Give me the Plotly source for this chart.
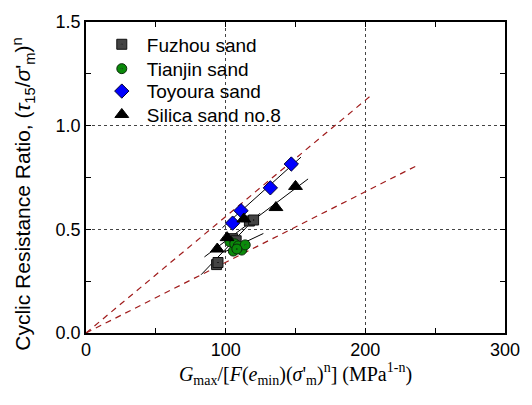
import plotly.graph_objects as go

# ---- data ----
fuzhou_x = [93.5, 94.5, 105, 107.5, 117, 120]
fuzhou_y = [0.33, 0.34, 0.455, 0.445, 0.54, 0.545]
tianjin_x = [103, 105.5, 106.5, 109, 111.5, 114, 108]
tianjin_y = [0.44, 0.395, 0.43, 0.42, 0.40, 0.425, 0.405]
toyoura_x = [105, 111, 132, 147]
toyoura_y = [0.53, 0.59, 0.70, 0.815]
silica_x = [94, 101, 113, 136, 150]
silica_y = [0.405, 0.46, 0.55, 0.605, 0.707]

# fitted lines (end points)
fuzhou_fit_x = [82.4, 124.6]
fuzhou_fit_y = [0.281, 0.578]
tianjin_fit_x = [98.8, 127]
tianjin_fit_y = [0.39, 0.48]
toyoura_fit_x = [97.7, 153.9]
toyoura_fit_y = [0.508, 0.848]
silica_fit_x = [84.8, 159]
silica_fit_y = [0.367, 0.743]

# bounding dashed lines through origin
upper_x = [0, 205.4]
upper_y = [0, 1.153]
lower_x = [0, 236.5]
lower_y = [0, 0.806]

x_ticks = [0, 100, 200, 300]
y_ticks = [0.0, 0.5, 1.0, 1.5]
y_tick_text = ["0.0", "0.5", "1.0", "1.5"]

# plot-area geometry (px) used to place legend rows / y title
L, R, T, B = 86, 19, 14, 72
W, H = 532, 405
PH = H - T - B
PW = W - L - R

fig = go.Figure()

dash_red = "#a01c1c"
for bx, by in [(upper_x, upper_y), (lower_x, lower_y)]:
    fig.add_trace(go.Scatter(x=bx, y=by, mode="lines", showlegend=False,
                             line=dict(color=dash_red, width=1.2, dash="6px,5px"),
                             hoverinfo="skip"))

for fx, fy in [(fuzhou_fit_x, fuzhou_fit_y), (tianjin_fit_x, tianjin_fit_y),
               (toyoura_fit_x, toyoura_fit_y), (silica_fit_x, silica_fit_y)]:
    fig.add_trace(go.Scatter(x=fx, y=fy, mode="lines", showlegend=False,
                             line=dict(color="black", width=1),
                             hoverinfo="skip"))

fig.add_trace(go.Scatter(x=fuzhou_x, y=fuzhou_y, mode="markers", name="Fuzhou sand",
                         legend="legend",
                         marker=dict(symbol="square-dot", size=10, color="#444444",
                                     line=dict(color="#111111", width=1))))
fig.add_trace(go.Scatter(x=tianjin_x, y=tianjin_y, mode="markers", name="Tianjin sand",
                         legend="legend2",
                         marker=dict(symbol="circle-dot", size=10, color="#0a8a0a",
                                     line=dict(color="#0b2b0b", width=1))))
fig.add_trace(go.Scatter(x=toyoura_x, y=toyoura_y, mode="markers", name="Toyoura sand",
                         legend="legend3",
                         marker=dict(symbol="diamond", size=11, color="#0000ff",
                                     line=dict(color="#000033", width=1))))
fig.add_trace(go.Scatter(x=silica_x, y=silica_y, mode="markers", name="Silica sand no.8",
                         legend="legend4",
                         marker=dict(symbol="triangle-up", size=12, color="black",
                                     line=dict(color="black", width=1))))

axis_common = dict(
    showline=True, linecolor="black", linewidth=1.5, mirror="ticks",
    ticks="inside", ticklen=5, tickcolor="black", tickwidth=1,
    showgrid=True, gridcolor="#444444", griddash="dot", gridwidth=1,
    zeroline=False,
    tickfont=dict(family="Liberation Sans, Arial", size=18, color="black"),
)

fig.update_xaxes(range=[0, 300], tickvals=x_ticks,
                 minor=dict(dtick=50, ticks="inside", ticklen=5, tickcolor="black", showgrid=False),
                 title=dict(text="<i>G</i><sub>max</sub>/[<i>F</i>(<i>e</i><sub>min</sub>)(<i>σ</i>'<sub>m</sub>)<sup>n</sup>] (MPa<sup>1-n</sup>)",
                            font=dict(family="Liberation Serif, Times New Roman", size=20, color="black"),
                            standoff=1),
                 **axis_common)
fig.update_yaxes(range=[0, 1.5], tickvals=y_ticks, ticktext=y_tick_text,
                 minor=dict(dtick=0.25, ticks="inside", ticklen=5, tickcolor="black", showgrid=False),
                 **axis_common)

# y-axis title (placed as rotated annotation to match reference position)
fig.add_annotation(
    text="Cyclic Resistance Ratio, (<i>τ</i><sub>15</sub>/<i>σ</i>'<sub>m</sub>)<sup>n</sup>",
    xref="paper", yref="paper",
    x=(22 - L) / PW, y=(H - B - 191) / PH,
    xanchor="center", yanchor="middle", textangle=-90, showarrow=False,
    font=dict(family="Liberation Sans, Arial", size=21, color="black"),
)

legend_font = dict(family="Liberation Sans, Arial", size=19, color="black")
row_px = [37, 62, 85, 109]
legend_x = (97 - L) / PW
legends = {}
for i, ry in enumerate(row_px):
    key = "legend" if i == 0 else f"legend{i+1}"
    legends[key] = dict(x=legend_x, y=(H - B - ry) / PH, xanchor="left", yanchor="middle",
                        bgcolor="rgba(0,0,0,0)", font=legend_font, itemwidth=40)

fig.update_layout(
    width=W, height=H,
    margin=dict(l=L, r=R, t=T, b=B),
    plot_bgcolor="white", paper_bgcolor="white",
    **legends,
)

fig.write_html("out.html")
